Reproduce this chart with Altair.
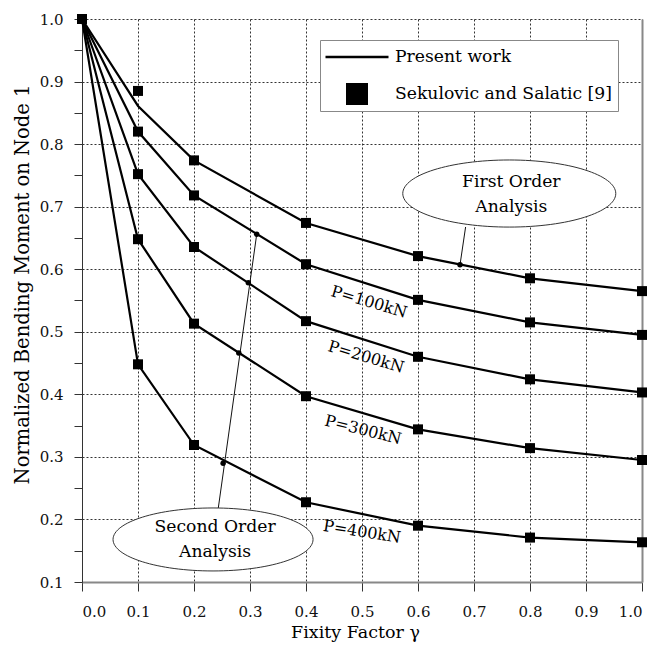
import altair as alt
import pandas as pd

FONT = "DejaVu Serif"

# ---------------- data ----------------
gamma = [0.0, 0.1, 0.2, 0.4, 0.6, 0.8, 1.0]
series_names = ["First Order", "P=100kN", "P=200kN", "P=300kN", "P=400kN"]
first_order = [1.0, 0.861, 0.774, 0.674, 0.621, 0.5855, 0.565]
p100 = [1.0, 0.820, 0.718, 0.608, 0.551, 0.515, 0.495]
p200 = [1.0, 0.752, 0.6355, 0.517, 0.460, 0.424, 0.403]
p300 = [1.0, 0.648, 0.513, 0.397, 0.344, 0.314, 0.295]
p400 = [1.0, 0.448, 0.319, 0.2275, 0.190, 0.171, 0.1635]

# Sekulovic and Salatic [9] reference values
ref_first = [1.0, 0.885, 0.774, 0.674, 0.621, 0.5855, 0.565]
ref_p100 = [1.0, 0.820, 0.718, 0.608, 0.551, 0.515, 0.495]
ref_p200 = [1.0, 0.752, 0.6355, 0.517, 0.460, 0.424, 0.403]
ref_p300 = [1.0, 0.648, 0.513, 0.397, 0.344, 0.314, 0.295]
ref_p400 = [1.0, 0.448, 0.319, 0.2275, 0.190, 0.171, 0.1635]

# curve labels
curve_labels = ["P=100kN", "P=200kN", "P=300kN", "P=400kN"]
curve_label_x = [0.5125, 0.507, 0.502, 0.500]
curve_label_y = [0.5476, 0.4597, 0.343, 0.180]
curve_label_angle = [16.5, 16.5, 14, 9]

# annotation callouts
first_dot_x = [0.675]
first_dot_y = [0.607]
second_dot_x = [0.312, 0.297, 0.280, 0.252]
second_dot_y = [0.656, 0.5785, 0.466, 0.290]
callout_x = [0.685, 0.312]
callout_y = [0.6675, 0.656]
callout_x2 = [0.675, 0.2434]
callout_y2 = [0.607, 0.2184]
bubble_text = ["First Order\nAnalysis", "Second Order\nAnalysis"]
bubble_x = [0.763, 0.234]
bubble_y = [0.721, 0.168]
bubble_w = [213, 200]

legend_names = ["Present work", "Sekulovic and Salatic [9]"]

# ---------------- tables ----------------
all_lines = [first_order, p100, p200, p300, p400]
all_refs = [ref_first, ref_p100, ref_p200, ref_p300, ref_p400]
line_df = pd.DataFrame([
    {"g": g, "v": v, "s": s}
    for s, vals in zip(series_names, all_lines) for g, v in zip(gamma, vals)
])
ref_df = pd.DataFrame([
    {"g": g, "v": v, "s": s, "src": legend_names[1]}
    for s, vals in zip(series_names, all_refs) for g, v in zip(gamma, vals)
])
dots_df = pd.DataFrame({"g": first_dot_x + second_dot_x, "v": first_dot_y + second_dot_y})
callout_df = pd.DataFrame({"g": callout_x, "v": callout_y, "g2": callout_x2, "v2": callout_y2})

xs = alt.Scale(domain=[0, 1], nice=False, zero=False)
ys = alt.Scale(domain=[0.1, 1.0], nice=False, zero=False)

GRID = dict(grid=True, gridColor="#333333", gridDash=[2, 2], gridWidth=1)

y_tick_vals = [round(0.1 + 0.05 * i, 2) for i in range(19)]
x_tick_vals = [round(0.1 * i, 1) for i in range(11)]

y_main_axis = alt.Axis(
    values=y_tick_vals, format=".1f",
    labelExpr="round(datum.value*100) % 10 == 0 ? datum.label : ''",
    gridOpacity={"condition": {"test": "round(datum.value*100) % 10 == 0", "value": 1}, "value": 0},
    title="Normalized Bending Moment on Node 1",
    titleFont=FONT, titleFontSize=19.5, titleFontWeight="normal", titleColor="black",
    titleX=-60, titleY=265, titleAngle=270, titleAlign="center", titleBaseline="middle",
    labelFont=FONT, labelFontSize=15, labelColor="#111111", labelPadding=11,
    tickSize=8, tickColor="#333333", tickWidth=1,
    domainColor="#333333", domainWidth=1, **GRID,
)
x_axis = alt.Axis(
    values=x_tick_vals, format=".1f",
    title="Fixity Factor γ",
    titleFont=FONT, titleFontSize=17.5, titleFontWeight="normal", titleColor="black",
    titleX=273, titleY=50, titleAlign="center", titleBaseline="middle",
    labelFont=FONT, labelFontSize=15, labelColor="#111111", labelPadding=13,
    tickSize=9, tickColor="#333333", tickWidth=1,
    domainColor="#888888", domainWidth=2, **GRID,
)
y_right_axis = alt.Axis(orient="right", labels=False, ticks=False, grid=False,
                        domainColor="#888888", domainWidth=2, title=None)

X = lambda f: alt.X(f, scale=xs, axis=x_axis)
Yn = lambda f: alt.Y(f, scale=ys, axis=None)

# curves ("Present work")
lines = alt.Chart(line_df).mark_line(color="black", strokeWidth=2.2).encode(
    x=X("g:Q"),
    y=alt.Y("v:Q", scale=ys, axis=y_main_axis),
    detail="s:N",
)

# squares + legend (line sample drawn as a thin filled bar symbol)
LINE_SYM = "M0,-1M0,1M-2.864,-0.105H2.864V0.105H-2.864Z"
SQ_SYM = "M-2.864,0M2.864,0M-1,-1H1V1H-1Z"
squares = alt.Chart(ref_df).mark_point(
    filled=True, color="black", size=100, opacity=1, strokeWidth=0
).encode(
    x=X("g:Q"),
    y=alt.Y("v:Q", scale=ys, axis=y_right_axis),
    shape=alt.Shape("src:N", scale=alt.Scale(domain=legend_names, range=[LINE_SYM, SQ_SYM]),
                    legend=alt.Legend(
                        title=None, orient="none", legendX=238, legendY=21,
                        direction="vertical",
                        symbolSize=484, symbolStrokeWidth=0,
                        symbolFillColor="black", symbolOpacity=1,
                        symbolOffset=20, labelOffset=27, rowPadding=15, padding=6,
                        labelFont=FONT, labelFontSize=17.2, labelColor="black",
                        labelLimit=0,
                        strokeColor="#888888", fillColor="white",
                    )),
)

# callout bubbles
ELLIPSE = "M-1,0A1,0.315,0,1,1,1,0A1,0.315,0,1,1,-1,0Z"
bubble_layers = []
for t, bx, by, bw in zip(bubble_text, bubble_x, bubble_y, bubble_w):
    d = pd.DataFrame({"g": [bx], "v": [by], "t": [t]})
    bubble_layers.append(
        alt.Chart(d).mark_point(shape=ELLIPSE, size=bw * bw, filled=False, fill="white",
                                fillOpacity=1, stroke="#333333", strokeWidth=1, opacity=1)
        .encode(x=X("g:Q"), y=Yn("v:Q"))
    )
    bubble_layers.append(
        alt.Chart(d).mark_text(font=FONT, fontSize=17.2, color="black", lineBreak="\n",
                               lineHeight=25, align="center", baseline="middle", dx=2, dy=-12)
        .encode(x=X("g:Q"), y=Yn("v:Q"), text="t:N")
    )

callouts = alt.Chart(callout_df).mark_rule(color="#111111", strokeWidth=1).encode(
    x=X("g:Q"), y=Yn("v:Q"), x2="g2:Q", y2="v2:Q"
)
dots = alt.Chart(dots_df).mark_point(filled=True, color="black", size=30, opacity=1).encode(
    x=X("g:Q"), y=Yn("v:Q")
)

label_layers = []
for t, lx, ly, ang in zip(curve_labels, curve_label_x, curve_label_y, curve_label_angle):
    d = pd.DataFrame({"g": [lx], "v": [ly], "t": [t]})
    label_layers.append(
        alt.Chart(d).mark_text(font=FONT, fontSize=16, color="black", angle=ang,
                               align="center", baseline="middle")
        .encode(x=X("g:Q"), y=Yn("v:Q"), text="t:N")
    )

chart = alt.layer(
    lines, squares, *bubble_layers, callouts, dots, *label_layers
).resolve_axis(y="independent").properties(
    width=560, height=563, autosize="none",
    padding={"left": 82, "top": 19, "right": 13, "bottom": 64},
    background="white",
).configure_view(stroke=None)

chart.save("out.html", embed_options={"renderer": "svg", "actions": False})
